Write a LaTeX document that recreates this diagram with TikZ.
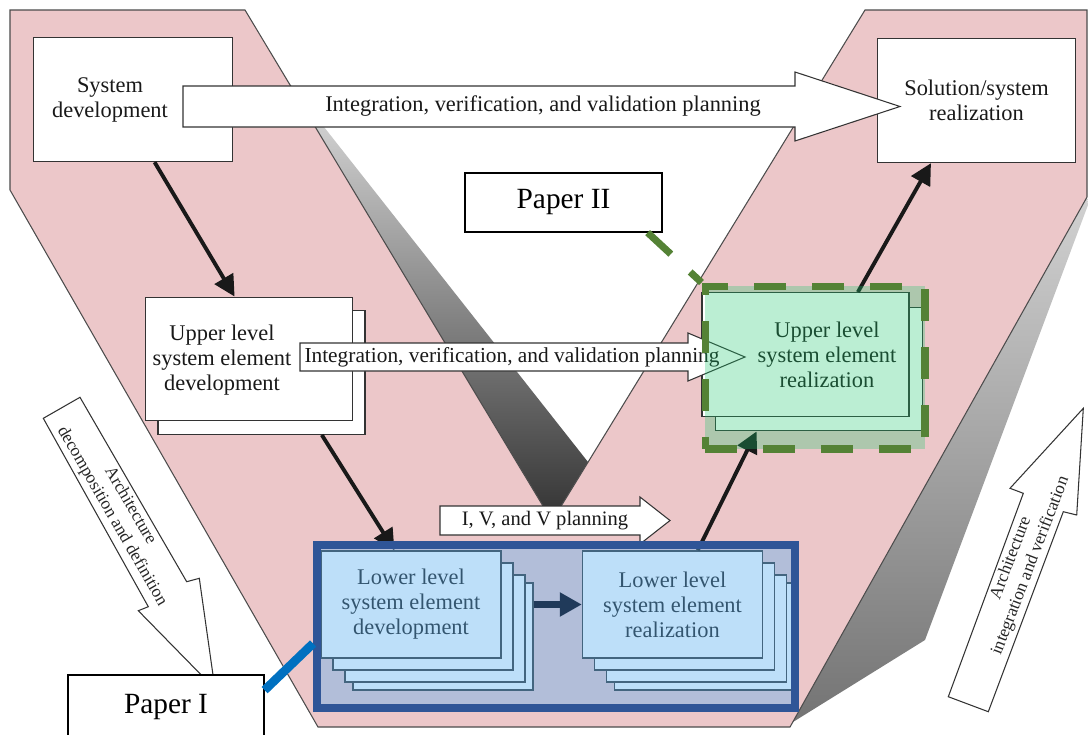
\documentclass[tikz,border=0pt]{standalone}
\usepackage{fontspec}
\setmainfont{Liberation Serif}
\usetikzlibrary{arrows.meta}
\definecolor{vpink}{RGB}{236,199,201}
\definecolor{bluetint}{RGB}{92,177,242}
\definecolor{blueframe}{RGB}{47,85,151}
\definecolor{bluelinkcol}{RGB}{0,112,192}
\definecolor{navy}{RGB}{32,58,90}
\definecolor{greentint}{RGB}{30,200,110}
\definecolor{greenframe}{RGB}{84,130,53}
\tikzstyle{vshape}=[draw=black!70, fill=vpink, line width=0.6pt, line join=miter]
\tikzstyle{lbl}=[align=center, inner sep=0pt, text=black!90, font=\fontsize{12.75}{14.2}\selectfont]
\tikzstyle{box}=[draw=black!80, fill=white, line width=0.8pt, inner sep=0pt, lbl]
\tikzstyle{topbox}=[box, minimum width=3.97cm, minimum height=2.48cm]
\tikzstyle{upbox}=[box, minimum width=4.14cm, minimum height=2.47cm]
\tikzstyle{lowbox}=[box, minimum width=3.6cm, minimum height=2.14cm]
\tikzstyle{blockarrow}=[draw=black!80, fill=white, line width=0.6pt, line join=miter]
\tikzstyle{sidelbl}=[align=center, inner sep=0pt, text=black!85, font=\fontsize{9.9}{11.9}\selectfont]
\tikzstyle{flow}=[line width=2.2pt, black!90, -{Triangle[length=12pt, width=12pt]}]
\tikzstyle{bluezone}=[draw=blueframe, line width=4.5pt, fill=bluetint, fill opacity=0.4]
\tikzstyle{greenzone}=[draw=greenframe, line width=4pt, dash pattern=on 18pt off 15pt, fill=greentint, fill opacity=0.3]
\tikzstyle{greenlink}=[draw=greenframe, line width=4pt, dash pattern=on 18pt off 15pt]
\tikzstyle{bluelink}=[draw=bluelinkcol, line width=5pt]
\tikzstyle{paperbox}=[draw=black, fill=white, line width=0.7pt, inner sep=0pt, text=black, font=\fontsize{16.7}{20}\selectfont]

\begin{document}
\begin{tikzpicture}[x=0.02cm, y=-0.02cm]
			\useasboundingbox (0,0) rectangle (1088,734);

			%%% The V
			% Shadows
			\shade[top color=black!12, bottom color=black!80] (287,80) -- (588,462) -- (552,521) -- cycle;
			\shade[top color=black!18, bottom color=black!55] (1087,197) -- (1088,205) -- (925,640) -- (793,722) -- (790,727) -- cycle;
			% Arms
			\draw[vshape] (10,10) -- (245,10) -- (552,521) -- (865,10) -- (1087,10) -- (1087,197)
				-- (790,727) -- (318,727) -- (10,190) -- cycle;

			%%% Top level
			\node[topbox]   (sysdev)    at (133,99.5)   {};
			\node[lbl]      (sysdevtxt) at (110,100)    {System\\development};
			\node[topbox]   (solution)  at (976.5,100.5) {Solution/system\\realization};

			%%% Upper level
			\node[upbox]    (updevb)    at (261.5,372.5) {};
			\node[upbox]    (updev)     at (249,359)     {};
			\node[lbl]      (updevtxt)  at (222,360)     {Upper level\\system element\\development};
			\node[upbox]    (uprealb)   at (819,369)     {};
			\node[upbox]    (upreal)    at (805.5,354.5) {};
			\node[lbl]      (uprealtxt) at (827,355)     {Upper level\\system element\\realization};

			%%% Lower level
			\foreach \d in {32,24,12} {
				\node[lowbox] (lowdev\d)  at (411+\d,604.5+\d)   {};
				\node[lowbox] (lowreal\d) at (672.5+\d,604.5+\d) {};
			}
			\node[lowbox]   (lowdev)    at (411,604.5)   {Lower level\\system element\\development};
			\node[lowbox]   (lowreal)   at (672.5,604.5) {Lower level\\system element\\realization};

			%%% Planning arrows
			\draw[blockarrow] (183,86) -- (795,86) -- (795,72) -- (900,106.5) -- (795,141) -- (795,127) -- (183,127) -- cycle;
			\node[lbl] (ivvtop) at (543,106) {Integration, verification, and validation planning};
			\draw[blockarrow] (300,343) -- (688,343) -- (688,333) -- (745,357) -- (688,381) -- (688,371) -- (300,371) -- cycle;
			\node[lbl, font=\fontsize{12.15}{14}\selectfont] (ivvmid) at (512,357) {Integration, verification, and validation planning};
			\draw[blockarrow] (440,506) -- (640,506) -- (640,497) -- (670,520.5) -- (640,544) -- (640,535) -- (440,535) -- cycle;
			\node[lbl, font=\fontsize{11.7}{14}\selectfont] (ivvlow) at (545,521) {I, V, and V planning};

			%%% Flow
			\draw[flow] (sysdev.-71) -- (updev.103);
			\draw[flow] (updevb.-46) -- (lowdev.107);
			\draw[flow] (lowreal.65) -- (uprealb.-135);
			\draw[flow] (upreal.50) -- (solution.-126);

			%%% Highlights
			\node[bluezone, minimum width=9.56cm, minimum height=3.26cm] (lowframe) at (556,626.5) {};
			\node[greenzone, minimum width=4.4cm, minimum height=3.26cm] (upframe) at (815,367.5) {};
			\draw[flow, navy, line width=3.6pt, -{Triangle[length=12.5pt, width=13pt]}] (lowdev32.east |- lowdev.east) -- (lowreal.west);

			%%% Side arrows
			\draw[blockarrow] (43.3,418.3) -- (80,397.3) -- (186.7,581.7) -- (199.3,578.3) -- (215,689) -- (138.3,610.7) -- (148.3,606.7) -- cycle;
			\node[sidelbl, rotate=-60] (decomp) at (121,511) {Architecture\\decomposition and definition};
			\draw[blockarrow] (948.3,696.7) -- (988.3,711.7) -- (1063.3,511.7) -- (1076.7,515) -- (1083.3,408.3) -- (1010,488.3) -- (1023.3,493.3) -- cycle;
			\node[sidelbl, rotate=69] (integ) at (1021,562) {Architecture\\integration and verification};

			%%% Papers
			\node[paperbox, minimum width=3.94cm, minimum height=1.18cm] (paper2) at (563.5,202.5) {Paper II};
			\node[paperbox, minimum width=3.92cm, minimum height=1.3cm]  (paper1) at (166,707.5)   {Paper I};
			\draw[greenlink] ([xshift=-0.3cm]paper2.south east) -- (upframe.north west);
			\draw[bluelink] (paper1.10) -- (lowframe.184);
		\end{tikzpicture}
\end{document}
